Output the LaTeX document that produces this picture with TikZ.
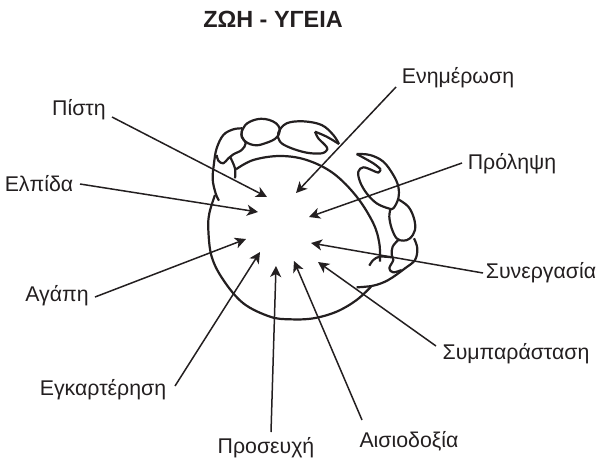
\documentclass[tikz,border=0pt]{standalone}
\usepackage{fontspec}
\setmainfont{Liberation Sans}
\usetikzlibrary{arrows.meta}
\definecolor{inkdark}{HTML}{231F20}
\tikzset{
  wordlabel/.style={inner sep=0pt,text=inkdark,font=\fontsize{21.3}{22}\selectfont},
  pointer/.style={line width=1.5pt,draw=inkdark,-{Stealth[length=11pt,width=11pt,inset=3pt]}},
  outline/.style={line width=2.2pt,draw=inkdark,line join=round},
}
\begin{document}
\begin{tikzpicture}[x=1pt,y=-1pt]
  \useasboundingbox (0,0) rectangle (601,464);
  \node[inner sep=0pt,text=inkdark,font=\fontsize{23.4}{24}\selectfont\bfseries] (heading) at (273,19) {ΖΩΗ - ΥΓΕΙΑ};
  % the words round the circle
  \node[wordlabel] (pisti) at (79,110) {Πίστη};
  \node[wordlabel] (elpida) at (39,184) {Ελπίδα};
  \node[wordlabel] (agapi) at (57,296) {Αγάπη};
  \node[wordlabel] (egkarterisi) at (103,390) {Εγκαρτέρηση};
  \node[wordlabel] (proseuchi) at (266,448) {Προσευχή};
  \node[wordlabel] (aisiodoxia) at (409,441) {Αισιοδοξία};
  \node[wordlabel] (symparastasi) at (516,354) {Συμπαράσταση};
  \node[wordlabel] (synergasia) at (541,273) {Συνεργασία};
  \node[wordlabel] (prolipsi) at (512,164) {Πρόληψη};
  \node[wordlabel] (enimerosi) at (458,78) {Ενημέρωση};
  % where the arrows stop
  \coordinate (tipPisti) at (267,197);
  \coordinate (tipElpida) at (258,212);
  \coordinate (tipAgapi) at (246,239);
  \coordinate (tipEgkarterisi) at (260,252);
  \coordinate (tipProseuchi) at (276,266);
  \coordinate (tipAisiodoxia) at (294,261);
  \coordinate (tipSymparastasi) at (318,262);
  \coordinate (tipSynergasia) at (311,243);
  \coordinate (tipProlipsi) at (309,217);
  \coordinate (tipEnimerosi) at (296,193);
  % the animal, in thirds of a pixel
  \begin{scope}[shift={(190,80)},x=0.3333pt,y=-0.3333pt]
    \draw[outline] plot[smooth,tension=0.6] coordinates {(138,268) (190,240) (270,228) (350,240) (430,280) (500,350) (550,430) (568,490) (570,545)};
    \draw[outline] plot[smooth,tension=0.6] coordinates {(75,345) (58,400) (55,450) (65,530) (100,600) (160,670) (240,710) (300,718) (370,715) (440,695) (500,660) (545,618)};
    % left shoulder
    \draw[outline] plot[smooth,tension=0.6] coordinates {(157,145) (130,148) (100,165) (80,205) (72,250) (68,298) (77,340) (87,362)};
    \draw[outline] plot[smooth,tension=0.6] coordinates {(157,145) (155,170) (167,190) (155,210) (130,223) (115,235) (100,250) (85,242) (80,225)};
    \draw[outline] plot[smooth,tension=0.6] coordinates {(120,230) (135,265) (135,295)};
    % upper arm and claw
    \draw[outline] plot[smooth cycle,tension=0.7] coordinates {(157,150) (180,125) (225,117) (265,137) (262,170) (225,190) (190,195) (160,178)};
    \draw[outline] plot[smooth,tension=0.6] coordinates {(447,192) (430,165) (395,135) (340,124) (290,130) (265,158) (270,185) (300,203) (350,218) (395,220) (412,208) (405,195) (385,175) (375,155)};
    \draw[outline] plot[smooth,tension=0.6] coordinates {(375,155) (410,170) (447,192)};
    % right claw and arm
    \draw[outline] plot[smooth,tension=0.6] coordinates {(500,222) (540,225) (580,245) (610,285) (625,320) (625,355) (610,385) (595,385) (560,370) (530,340) (510,305) (505,275) (520,262) (545,270) (565,278) (572,268)};
    \draw[outline] plot[smooth,tension=0.6] coordinates {(572,268) (550,250) (500,222)};
    \draw[outline] plot[smooth,tension=0.6] coordinates {(625,358) (655,380) (672,415) (675,450) (660,475) (640,482) (620,475) (605,445) (598,410) (602,385)};
    \draw[outline] plot[smooth,tension=0.6] coordinates {(672,475) (682,505) (675,540) (645,565) (595,600) (550,617) (500,622)};
    \draw[outline] plot[smooth,tension=0.6] coordinates {(625,480) (608,500) (605,525) (610,540) (598,565) (610,577) (635,570)};
    \draw[outline] plot[smooth,tension=0.6] coordinates {(538,557) (550,540) (570,530) (605,532)};
  \end{scope}
  % arrows from the words
  \draw[pointer] ([shift={(33,7)}]pisti.center) -- (tipPisti);
  \draw[pointer] ([shift={(41,0)}]elpida.center) -- (tipElpida);
  \draw[pointer] ([shift={(38,1)}]agapi.center) -- (tipAgapi);
  \draw[pointer] ([shift={(72,-4)}]egkarterisi.center) -- (tipEgkarterisi);
  \draw[pointer] ([shift={(5,-16)}]proseuchi.center) -- (tipProseuchi);
  \draw[pointer] ([shift={(-47,-21)}]aisiodoxia.center) -- (tipAisiodoxia);
  \draw[pointer] ([shift={(-80,-8)}]symparastasi.center) -- (tipSymparastasi);
  \draw[pointer] ([shift={(-58,0)}]synergasia.center) -- (tipSynergasia);
  \draw[pointer] ([shift={(-50,-1)}]prolipsi.center) -- (tipProlipsi);
  \draw[pointer] ([shift={(-62,9)}]enimerosi.center) -- (tipEnimerosi);
\end{tikzpicture}
\end{document}
